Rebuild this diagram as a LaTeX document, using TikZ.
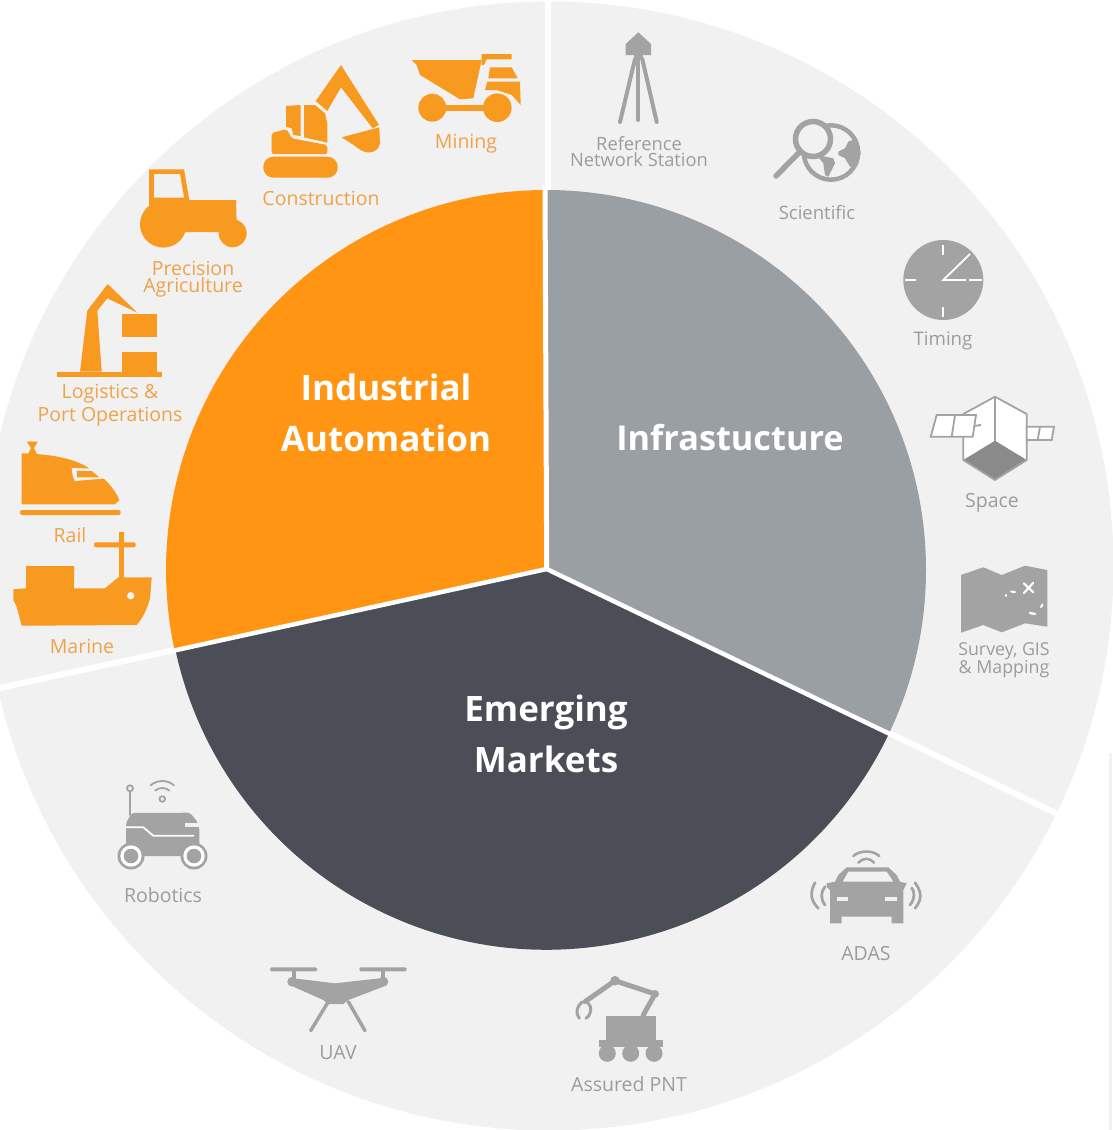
\documentclass[tikz,border=0pt]{standalone}
\usepackage{fontspec}
\setmainfont{Open Sans}
\definecolor{ringc}{HTML}{F1F1F1}
\definecolor{orangepie}{HTML}{FF9512}
\definecolor{graypie}{HTML}{9A9FA4}
\definecolor{darkpie}{HTML}{4B4D57}
\definecolor{iconor}{HTML}{F99A20}
\definecolor{icongr}{HTML}{A3A3A3}
\definecolor{icondk}{HTML}{8A8A8A}
\definecolor{textor}{HTML}{F0A24A}
\definecolor{textgr}{HTML}{9C9C9C}
\tikzset{
  orfill/.style={fill=iconor,draw=none},
  grfill/.style={fill=icongr,draw=none},
  bgfill/.style={fill=ringc,draw=none},
  whfill/.style={fill=white,draw=none},
  grline/.style={draw=icongr,line width=#1,line cap=round,line join=round},
  bigl/.style={text=white,align=center,font=\fontsize{35}{51}\selectfont\bfseries,inner sep=0pt},
  orl/.style={text=textor,align=center,font=\fontsize{19.5}{17}\selectfont,inner sep=0pt},
  grl/.style={text=textgr,align=center,font=\fontsize{19.5}{17}\selectfont,inner sep=0pt}
}
\begin{document}
\begin{tikzpicture}[x=1pt,y=-1pt]
\useasboundingbox (0,0) rectangle (1112,1130);
% outer ring
\fill[ringc] (549,566) circle[radius=564.5];
\fill[ringc] (1109,753) rectangle (1112,1130);
\coordinate (vo) at (548,569);
\coordinate (topo) at (548,-2);
\coordinate (ro) at (1056.5,813.5);
\coordinate (lo) at (-5,689);
\draw[white,line width=6] (vo) -- (topo);
\draw[white,line width=6] (vo) -- (ro);
\draw[white,line width=6] (vo) -- (lo);
% pie (y axis points down: angles are measured clockwise on the page)
\fill[graypie] (546,570) -- (546,190) arc[start angle=-90,end angle=25.7,radius=380] -- cycle;
\fill[darkpie] (546,570) -- ++(25.7:380) arc[start angle=25.7,end angle=167.7,radius=379.5] -- cycle;
\fill[orangepie] (546,570) -- (546,190) arc[start angle=-90,end angle=-192.3,radius=380] -- cycle;
\coordinate (v) at (546.7,569);
\draw[white,line width=5] (v) -- (545,185);
\draw[white,line width=4.5,line cap=round] (v) -- (892,735);
\draw[white,line width=4.5,line cap=round] (v) -- (172,651);
% centre labels
\node[bigl] (ia) at (386,412.5) {Industrial\\Automation};
\node[bigl,font=\fontsize{34.3}{51}\selectfont\bfseries] (in) at (730,438) {Infrastucture};
\node[bigl] (em) at (546,733.5) {Emerging\\Markets};

% ---------- Mining
\fill[orfill] (411.7,60) -- (481.7,60) -- (473.3,98.3) -- (460,99.3) -- (420,75) -- (416.7,65) -- cycle;
\fill[orfill] (481.7,54) -- (511.7,54) -- (511.7,59.3) -- (486.7,59.3) -- (484,65) -- (481.7,65) -- cycle;
\fill[orfill] (490,67.3) -- (511.7,67.3) -- (517.7,78.3) -- (488.3,78.3) -- cycle;
\fill[orfill] (487.3,81.7) -- (520,81.7) -- (520.7,105) -- (511.7,95) -- (496.7,90) -- (485,90) -- cycle;
\fill[orfill] (432.3,107.7) circle[radius=14];
\fill[orfill] (497.3,107.7) circle[radius=14.3];
\fill[orfill] (432,105) rectangle (497,111);
\node[orl] (mining) at (466,144) {Mining};
% ---------- Construction
\fill[orfill,rounded corners=10] (263.3,156.7) rectangle (337.7,177.7);
\fill[orfill,rounded corners=2] (271.7,133) -- (286.7,129) -- (291.7,138.3) -- (327.3,145) -- (327.3,154) -- (271.7,154) -- cycle;
\fill[orfill] (286,106) -- (300.7,105) -- (300.7,136) -- (293.3,135) -- (291.7,128.3) -- (286,126.7) -- cycle;
\fill[orfill] (304,105) -- (315,105) -- (325,113.3) -- (327.3,123.3) -- (327.3,142.7) -- (304,137.3) -- cycle;
\fill[orfill] (315.7,101) -- (341,65) -- (379,125) -- (372.7,128.3) -- (341,87.3) -- (327.3,111) -- cycle;
\fill[orfill] (341.7,137.3) -- (379.3,127.3) -- (380,143.3) .. controls (379,149) and (375,152) .. (369,152.5) .. controls (364,152.5) and (360,150) .. (355,146) -- cycle;
\node[orl] (constr) at (321,198) {Construction};
% ---------- Precision Agriculture
\fill[orfill] (149,169.3) -- (184,169.3) -- (189.3,200) -- (236,200) -- (236.7,222) -- (232,232) -- (163,232) -- (149,210) -- cycle;
\fill[orfill] (163.3,224.3) circle[radius=23.3];
\fill[orfill] (232.7,233.3) circle[radius=14];
\fill[bgfill] (154,174) -- (180,174) -- (184,197.7) -- (154,197.7) -- cycle;
\node[orl] (prec) at (193,279) {Precision\\Agriculture};
% ---------- Logistics
\fill[orfill] (87.3,310.7) -- (107.7,284) -- (137.3,312.7) -- (107.3,298.3) -- (97.3,310.7) -- (101.7,371.7) -- (80,371.7) -- cycle;
\fill[orfill] (57.3,371.7) rectangle (161.7,376.7);
\fill[orfill] (121.7,314.3) rectangle (156.7,336.7);
\fill[orfill] (121.7,352.3) rectangle (156.7,371.7);
\node[orl,font=\fontsize{19.5}{23}\selectfont] (logi) at (110,405) {Logistics \&\\Port Operations};
% ---------- Rail
\fill[orfill] (21.7,453.3) .. controls (50,454) and (72,458) .. (86.7,466.7) -- (103.3,478.3) .. controls (110,484) and (116,492) .. (119.3,500) -- (115,504.3) -- (21.7,504.3) -- cycle;
\fill[orfill] (26.7,441.7) -- (37.7,441.7) -- (34,448) -- (37,454) -- (28,454) -- (31,448) -- cycle;
\fill[bgfill] (71.7,468) -- (92,468.5) -- (104,478.5) -- (75,481) .. controls (73,478) and (72,473) .. (71.7,468) -- cycle;
\fill[orfill] (76.7,471) -- (91.7,471) -- (99.3,477.3) -- (77.3,477.3) -- cycle;
\fill[orfill,rounded corners=2] (20,510) rectangle (120.7,515);
\node[orl] (rail) at (70,535) {Rail};
% ---------- Marine
\fill[orfill] (13.3,589.3) -- (26,588.3) -- (26,566) -- (74,566) -- (74,588.3) -- (105,588.3) -- (118.3,577.3) -- (151.7,577.3) -- (150,598.3) .. controls (147,610) and (142,619) .. (136.7,625) -- (21.7,625.7) -- (16.7,606.7) -- (13.3,600) -- cycle;
\fill[orfill] (119.3,531.7) rectangle (124.3,578);
\fill[orfill,rounded corners=2] (94,542.3) rectangle (135.7,547.3);
\fill[bgfill] (130.7,595.7) circle[radius=3.7];
\node[orl] (marine) at (82,646) {Marine};

% ---------- Reference Network Station
\fill[grfill] (638.3,32.3) -- (651,44) -- (651,55) -- (625.7,55) -- (625.7,44) -- cycle;
\fill[grfill] (634,55) rectangle (643,60);
\draw[grline=4] (638.3,59) -- (638.3,120);
\draw[grline=4] (635,59) -- (620,122);
\draw[grline=4] (642.3,59) -- (656.7,122);
\node[grl,font=\fontsize{18.3}{16}\selectfont] (ref) at (639,152) {Reference\\Network Station};
% ---------- Scientific
\draw[grline=4.5] (831,152.5) circle[radius=27.2];
\fill[grfill] (838.3,151.7) -- (845,148.3) -- (848.3,141.7) -- (856.7,138.3) -- (860.7,153.3) -- (855,168.3) -- (850,166.7) -- (845,158.3) -- (838.3,155) -- cycle;
\fill[grfill] (816.7,155) -- (833.3,158.3) -- (835,163.3) -- (828.3,176.7) -- (825,175) -- (823.3,163.3) -- cycle;
\fill[bgfill] (813,139) circle[radius=17.5];
\draw[grline=5.5] (813,139) circle[radius=17.5];
\draw[grline=5.5] (798.3,153.3) -- (776,176);
\node[grl,font=\fontsize{18.5}{17}\selectfont] (sci) at (817,213) {Scientific};
% ---------- Timing
\fill[grfill] (943.3,280) circle[radius=40];
\draw[white,line width=1.8] (943.3,245) -- (943.3,255);
\draw[white,line width=1.8] (943.3,306.7) -- (943.3,316.7);
\draw[white,line width=1.8] (905,280) -- (916,280);
\draw[white,line width=1.8] (969,280) -- (981.7,280);
\draw[white,line width=1.8] (970,254) -- (943.3,280) -- (966,280);
\node[grl,font=\fontsize{18.7}{17}\selectfont] (tim) at (943,341) {Timing};
% ---------- Space
\fill[whfill] (995,396.7) -- (1026.7,414) -- (1026.7,460) -- (995,480) -- (963.3,460) -- (963.3,414) -- cycle;
\fill[icondk] (995,440.7) -- (1026.7,460) -- (995,480) -- (963.3,460) -- cycle;
\draw[icongr,line width=1.8,line join=round] (995,396.7) -- (1026.7,414) -- (1026.7,460) -- (995,480) -- (963.3,460) -- (963.3,414) -- cycle;
\draw[icongr,line width=1.8] (995,396.7) -- (995,440.7);
\draw[fill=white,draw=icongr,line width=1.8] (936.7,415) -- (976,415) -- (972.7,436.7) -- (930.7,436.7) -- cycle;
\draw[icongr,line width=1.8] (955,415) -- (951.7,436.7);
\draw[icongr,line width=1.8] (974,426) -- (981,425);
\draw[fill=white,draw=icongr,line width=1.8] (1026.7,426.7) -- (1054,426.7) -- (1051.7,440) -- (1026.7,440) -- cycle;
\draw[icongr,line width=1.8] (1040,426.7) -- (1037.7,440);
\node[grl] (spc) at (992,503) {Space};
% ---------- Survey
\fill[grfill] (961,575) -- (983.3,567.3) -- (1001.7,575) -- (1025,565.7) -- (1047.3,570) -- (1047.3,626.7) -- (1025,623.3) -- (1001.7,632.3) -- (983.3,625) -- (961,632.7) -- cycle;
\draw[white,line width=2.2,line cap=round] (1024,583.5) -- (1033,592);
\draw[white,line width=2.2,line cap=round] (1033,583) -- (1024,593);
\draw[white,line width=2,line cap=round] (1005.5,596) -- (1006.5,595);
\draw[white,line width=2,line cap=round] (1011,591.5) -- (1015,592);
\draw[white,line width=2,line cap=round] (1041,607) -- (1042.5,604.5);
\draw[white,line width=2.4,line cap=round] (1030,613) -- (1035,614);
\node[grl,font=\fontsize{17.8}{18}\selectfont] (sur) at (1004,660) {Survey, GIS\\\& Mapping};

% ---------- Robotics
\fill[grfill,rounded corners=2] (126,827) -- (126,823) -- (131.7,813) -- (190,812.7) -- (197.3,821.7) -- (199.3,828) -- (199.3,856) -- (126,856) -- cycle;
\draw[white,line width=1.8,line join=round] (125,827.3) -- (143.3,827.3) -- (153.3,835.7) -- (194,835.7);
\fill[bgfill] (185,823.2) rectangle (200,826.5);
\foreach \cx in {131,194}{
  \fill[grfill] (\cx,856) circle[radius=13.5];
  \fill[whfill] (\cx,856) circle[radius=10.7];
  \fill[grfill] (\cx,856) circle[radius=7.3];
}
\draw[grline=1.8] (130,791) -- (130,815);
\draw[grline=1.8] (130,788.3) circle[radius=3];
\draw[grline=1.8] (162.3,799) circle[radius=2.8];
\draw[grline=1.8] (162.3,799) ++(-50:11) arc[start angle=-50,end angle=-130,radius=11];
\draw[grline=1.8] (162.3,799) ++(-50:18) arc[start angle=-50,end angle=-130,radius=18];
\node[grl] (rob) at (163,895) {Robotics};
% ---------- UAV
\fill[grfill,rounded corners=1.5] (270,967.3) rectangle (317.3,971.3);
\fill[grfill,rounded corners=1.5] (359.3,967.3) rectangle (406.7,971.3);
\fill[grfill] (291.5,971) rectangle (296,980);
\fill[grfill] (380.5,971) rectangle (385,980);
\fill[grfill] (292.3,981.7) circle[radius=5];
\fill[grfill] (383.3,981.7) circle[radius=5];
\fill[grfill] (293.3,978.3) -- (335,983.3) -- (380,978.3) -- (383.3,986.7) -- (348.3,1000) -- (343.3,1004) -- (328.3,1004) -- (323.3,1000) -- (293.3,986.7) -- cycle;
\draw[grline=3.5] (328.3,1001.7) -- (310.7,1030.7);
\draw[grline=3.5] (348.3,1001.7) -- (365,1030.7);
\node[grl] (uav) at (338,1053) {UAV};
% ---------- Assured PNT
\fill[grfill] (606,1016) rectangle (655.7,1040);
\fill[grfill] (599,1040) rectangle (662.7,1047.3);
\foreach \cx in {607.3,630.7,654}{\fill[grfill] (\cx,1053.3) circle[radius=8.5];}
\draw[grline=5] (643.3,1015) -- (655,994) -- (615,980.7) -- (585,1001.7);
\fill[grfill] (655,994) circle[radius=4];
\fill[grfill] (615,980.7) circle[radius=4.8];
\draw[grline=3] (582,1002) .. controls (577,1006) and (575,1013) .. (579.3,1018.3);
\draw[grline=3] (588.3,1003.3) .. controls (592,1007) and (592,1014) .. (586,1018.3);
\node[grl] (pnt) at (629,1084) {Assured PNT};
% ---------- ADAS
\fill[grfill] (838.3,875) -- (846.7,867.3) -- (888.3,867.3) -- (896.7,875) -- (900,881.7) -- (906.7,883.3) -- (903.3,890) -- (903.3,923.3) -- (891.7,923.3) -- (891.7,916.7) -- (841.7,916.7) -- (841.7,923.3) -- (830,923.3) -- (830,890) -- (826.7,886.7) -- (826.7,883.3) -- (835,881.7) -- cycle;
\fill[bgfill] (842.7,881.7) -- (848.3,871.7) -- (886.7,871.7) -- (893.3,881.7) -- cycle;
\fill[bgfill] (836.7,896.7) rectangle (848.3,901);
\fill[bgfill] (885,896.7) rectangle (896.7,901);
\draw[grline=2.5] (853.3,856) .. controls (860,850) and (873,850) .. (879.3,856);
\draw[grline=2.5] (858.3,862.7) .. controls (863,857.5) and (870,857.5) .. (874,862.7);
\draw[grline=2.8] (815,882.7) .. controls (810,892) and (810,900) .. (818.3,908.3);
\draw[grline=2.8] (825,886.7) .. controls (820.5,892) and (820.5,899) .. (825,905);
\draw[grline=2.8] (915,882.7) .. controls (922,892) and (922,900) .. (915,908.3);
\draw[grline=2.8] (911.7,888) .. controls (915,892) and (915,899) .. (910,905);
\node[grl] (adas) at (866,954) {ADAS};
\end{tikzpicture}
\end{document}
